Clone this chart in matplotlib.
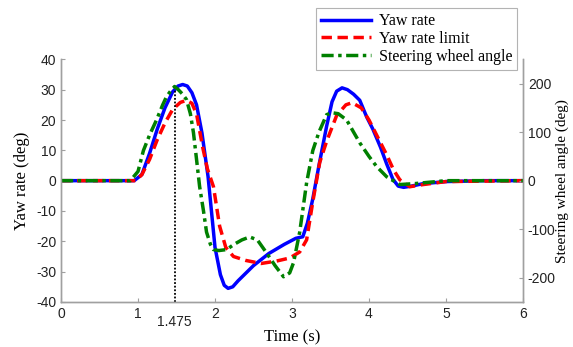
import matplotlib.pyplot as plt

# yaw rate (deg/s, left axis)
t_yaw = [0, 0.95, 1.05, 1.15, 1.25, 1.35, 1.45, 1.52, 1.58, 1.64, 1.7, 1.76, 1.83, 1.91, 2.0, 2.07,
         2.12, 2.17, 2.23, 2.3, 2.5, 2.7, 2.9, 3.05, 3.14, 3.2, 3.27, 3.35, 3.45, 3.52, 3.58, 3.65,
         3.72, 3.8, 3.88, 3.97, 4.05, 4.15, 4.23, 4.31, 4.38, 4.45, 4.55, 4.7, 5.0, 5.5, 6.0]
yaw = [0, 0, 2, 9, 17, 24, 29.3, 31.2, 31.7, 31.2, 29, 25, 15.8, 1.3, -22, -31,
       -34.5, -35.5, -35, -33, -28, -24, -21, -19, -18.5, -14, -6, 5, 18, 26, 29.5, 30.6,
       30, 28.5, 26.5, 21, 17, 11, 5.5, 0.5, -1.8, -2.2, -1.8, -1, -0.3, 0, 0]

# yaw rate limit (deg/s, left axis)
t_lim = [0, 0.97, 1.05, 1.15, 1.25, 1.35, 1.45, 1.55, 1.63, 1.7, 1.76, 1.84, 1.9, 1.98, 2.06,
         2.14, 2.24, 2.4, 2.6, 2.8, 2.97, 3.1, 3.19, 3.27, 3.36, 3.45, 3.58, 3.7, 3.78, 3.9,
         4.0, 4.12, 4.23, 4.32, 4.4, 4.53, 4.7, 5.0, 6.0]
lim = [0, 0, 2, 7, 13.5, 19, 23.5, 25.8, 26.5, 25.5, 22, 11, 4, -2, -15,
       -22, -25, -26.3, -27.3, -26.5, -25.5, -23.5, -19.5, -7, 6, 13, 21.5, 25, 25.7, 24,
       20, 14, 8.5, 3.5, 0.3, -2, -1.3, -0.3, 0]

# steering wheel angle (deg, right axis)
t_sw = [0, 0.9, 1.0, 1.07, 1.15, 1.24, 1.32, 1.37, 1.42, 1.475, 1.52, 1.58, 1.63, 1.68, 1.72,
        1.76, 1.8, 1.85, 1.89, 1.94, 1.98, 2.05, 2.15, 2.25, 2.35, 2.45, 2.55, 2.67, 2.78, 2.89,
        2.97, 3.02, 3.1, 3.19, 3.27, 3.35, 3.45, 3.52, 3.6, 3.71, 3.8, 3.88, 4.0, 4.1, 4.23,
        4.4, 4.6, 4.8, 5.0, 6.0]
sw = [0, 0, 19, 62, 94, 125, 156, 173, 184, 194, 188, 178, 167, 138, 99,
      44, -12, -62, -106, -131, -142, -144, -142, -131, -122, -116, -122, -149, -175, -198,
      -190, -169, -106, -4, 62, 100, 136, 140, 138, 125, 100, 78, 50, 29, 8,
      -8, -6, -3, 0, 0]

t_mark = 1.475
yaw_mark = 31

plt.rcParams['font.family'] = ['Liberation Sans']
plt.rcParams['axes.unicode_minus'] = False
spine_c = '#a0a0a0'
tick_fs = 10

fig = plt.figure(figsize=(5.73, 3.47), dpi=100)
ax = fig.add_axes([0.1065, 0.1297, 0.8062, 0.6993])
ax2 = ax.twinx()

l1, = ax.plot(t_yaw, yaw, color='#0000ff', lw=2.5, label='Yaw rate')
l2, = ax.plot(t_lim, lim, color='#ff0000', lw=2.5, ls=(0, (3, 1.6)), label='Yaw rate limit')
l3, = ax2.plot(t_sw, sw, color='#008000', lw=2.5, ls=(0, (3.5, 1.3, 1, 1.3)),
               label='Steering wheel angle')
ax.plot([t_mark, t_mark], [-40, yaw_mark], color='black', lw=1.3, ls=(0, (1, 1)))

ax.set_xlim(0, 6)
ax.set_ylim(-40, 40)
ax2.set_ylim(-250, 250)
ax.set_xticks(range(7))
ax.set_yticks(range(-40, 41, 10))
ax2.set_yticks(range(-200, 201, 100))

for a in (ax, ax2):
    for s in a.spines.values():
        s.set_color(spine_c)
        s.set_linewidth(1.0)
    a.spines['top'].set_visible(False)
    a.tick_params(direction='in', color=spine_c, labelsize=tick_fs, labelcolor='#222222', length=3)

ax.text(t_mark, -44.2, '1.475', ha='center', va='top', fontsize=tick_fs, color='#222222')

serif = 'Liberation Serif'
ax.set_xlabel('Time (s)', fontfamily=serif, fontsize=12, labelpad=6)
ax.set_ylabel('Yaw rate (deg)', fontfamily=serif, fontsize=12, labelpad=4)
ax2.set_ylabel('Steering wheel angle (deg)', fontfamily=serif, fontsize=11, labelpad=0)

leg = fig.legend(handles=[l1, l2, l3], loc='upper right', bbox_to_anchor=(0.902, 0.976),
                 prop={'family': serif, 'size': 11.5}, frameon=True, fancybox=False,
                 handlelength=3.1, handletextpad=0.5, borderpad=0.3, labelspacing=0.12,
                 borderaxespad=0)
leg.get_frame().set_edgecolor(spine_c)
leg.get_frame().set_linewidth(0.8)

fig.savefig('out.png', dpi=100)
